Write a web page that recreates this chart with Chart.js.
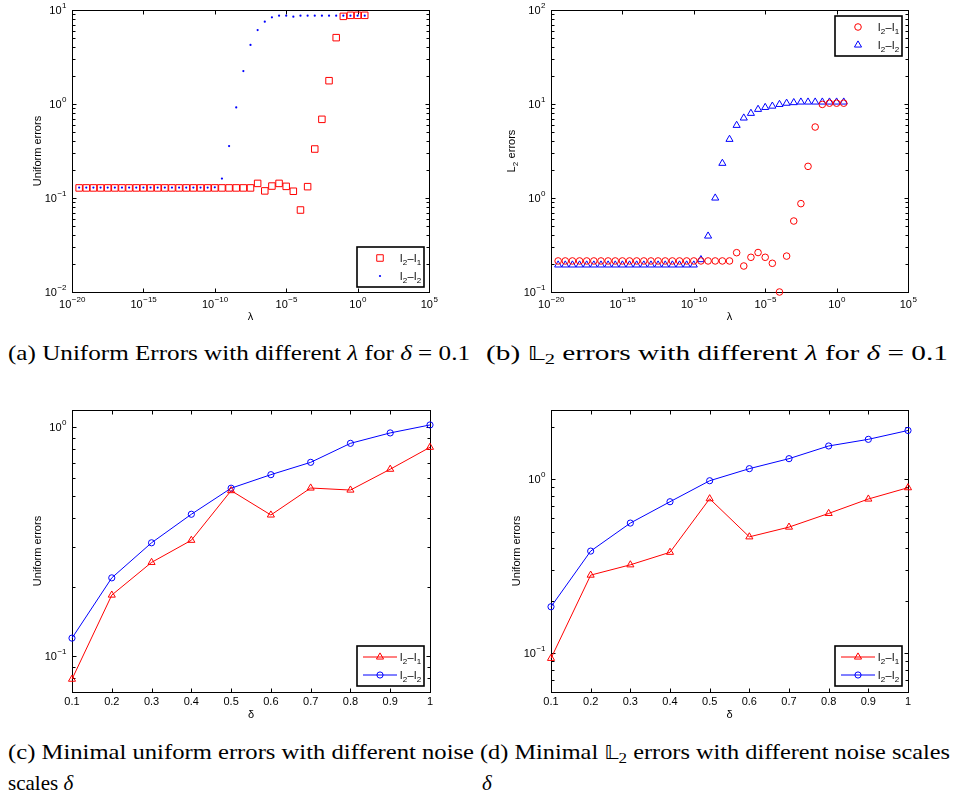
<!DOCTYPE html>
<html>
<head>
<meta charset="utf-8">
<script src="https://cdn.jsdelivr.net/npm/chart.js@4"></script>
<style>
  html, body { margin: 0; padding: 0; background: #fff; }
  body { width: 954px; height: 799px; position: relative; overflow: hidden; }
  canvas { position: absolute; }
  .cap { position: absolute; font-family: "Liberation Serif", "DejaVu Serif", serif; font-size: 21px; color: #000; white-space: nowrap; transform-origin: 0 50%; line-height: 1; }
  .cap sub { font-size: 70%; vertical-align: -0.25em; line-height: 0; }
  .ds { font-family: "DejaVu Sans", "DejaVu Serif", serif; font-size: 90%; }
</style>
</head>
<body>
<canvas id="ca" width="477" height="330" style="left:0;top:0"></canvas>
<canvas id="cb" width="477" height="330" style="left:477px;top:0"></canvas>
<canvas id="cc" width="477" height="330" style="left:0;top:395px"></canvas>
<canvas id="cd" width="477" height="330" style="left:477px;top:395px"></canvas>

<div class="cap" data-w="462" style="left:8px;top:343px">(a) Uniform Errors with different <i>λ</i> for <i>δ</i> = 0.1</div>
<div class="cap" data-w="462" style="left:486px;top:343px">(b) <span class="ds">𝕃</span><sub>2</sub> errors with different <i>λ</i> for <i>δ</i> = 0.1</div>
<div class="cap" data-w="466" style="left:8px;top:742px">(c) Minimal uniform errors with different noise</div>
<div class="cap" data-w="470" style="left:480px;top:742px">(d) Minimal <span class="ds">𝕃</span><sub>2</sub> errors with different noise scales</div>
<div class="cap" style="left:8px;top:773px">scales <i>δ</i></div>
<div class="cap" style="left:482px;top:773px"><i>δ</i></div>

<script>
// ---------------- DATA ----------------
// lambda = 10^exponent
const lambdaExponents = [-19.5,-19,-18.5,-18,-17.5,-17,-16.5,-16,-15.5,-15,-14.5,-14,-13.5,-13,-12.5,-12,-11.5,-11,-10.5,-10,
  -9.5,-9,-8.5,-8,-7.5,-7,-6.5,-6,-5.5,-5,-4.5,-4,-3.5,-3,-2.5,-2,-1.5,-1,-0.5,0,0.5];

// (a) Uniform errors vs lambda
const uniformL2L1 = [0.128,0.128,0.128,0.128,0.128,0.128,0.128,0.128,0.128,0.128,0.128,0.128,0.128,0.128,0.128,0.128,0.128,0.128,0.128,0.128,
  0.128,0.128,0.128,0.128,0.128,0.143,0.119,0.134,0.143,0.133,0.118,0.0745,0.132,0.332,0.687,1.77,5.08,8.56,8.78,8.78,8.78];
const uniformL2L2 = [0.129,0.129,0.129,0.129,0.129,0.129,0.129,0.129,0.129,0.129,0.129,0.129,0.129,0.129,0.129,0.129,0.129,0.129,0.129,0.13,
  0.161,0.357,0.92,2.24,4.25,6.12,7.52,8.36,8.7,8.7,8.5,8.7,8.7,8.7,8.7,8.7,8.7,8.7,8.7,8.7,8.7];

// (b) L2 errors vs lambda
const l2L2L1 = [0.214,0.214,0.214,0.214,0.214,0.214,0.214,0.214,0.214,0.214,0.214,0.214,0.214,0.214,0.214,0.214,0.214,0.214,0.214,0.214,
  0.214,0.214,0.214,0.214,0.214,0.262,0.189,0.234,0.263,0.234,0.202,0.1,0.241,0.569,0.871,2.17,5.69,9.9,10.2,10.2,10.2];
const l2L2L2 = [0.194,0.194,0.194,0.194,0.194,0.194,0.194,0.194,0.194,0.194,0.194,0.194,0.194,0.194,0.194,0.194,0.194,0.194,0.194,0.194,
  0.221,0.394,1.0,2.34,4.21,5.93,7.1,7.96,8.78,9.2,9.5,9.9,10.2,10.35,10.5,10.5,10.5,10.5,10.5,10.5,10.5];

// (c),(d) minimal errors vs delta
const deltas = [0.1,0.2,0.3,0.4,0.5,0.6,0.7,0.8,0.9,1.0];
const minUniformL2L1 = [0.0794,0.185,0.257,0.321,0.529,0.414,0.543,0.532,0.656,0.818];
const minUniformL2L2 = [0.12,0.22,0.313,0.417,0.542,0.621,0.703,0.851,0.945,1.024];
const minL2L2L1 = [0.0936,0.281,0.322,0.380,0.771,0.466,0.530,0.635,0.768,0.892];
const minL2L2L2 = [0.185,0.386,0.559,0.741,0.978,1.147,1.309,1.548,1.69,1.90];

// tick labels
const lambdaTickExps = ['−20','−15','−10','−5','0','5'];
const lambdaTickVals = [1e-20,1e-15,1e-10,1e-5,1e0,1e5];
const uniformYTickExps = ['−2','−1','0','1'];
const uniformYTickVals = [1e-2,1e-1,1e0,1e1];
const l2YTickExps = ['−1','0','1','2'];
const l2YTickVals = [1e-1,1e0,1e1,1e2];
const deltaTickLabels = ['0.1','0.2','0.3','0.4','0.5','0.6','0.7','0.8','0.9','1'];
const minYTickExps = ['−1','0'];
const minYTickVals = [1e-1,1e0];
const seriesNames = [['l','2','-','l','1'],['l','2','-','l','2']];

// ---------------- HELPERS ----------------
const FONT = '"Liberation Sans", Arial, Helvetica, sans-serif';
const RED = '#ff0000', BLUE = '#0000ff';

function pts(xs, ys) { return xs.map((x, i) => ({x: x, y: ys[i]})); }
const lambdas = lambdaExponents.map(e => Math.pow(10, e));

function line(ctx, x1, y1, x2, y2) { ctx.beginPath(); ctx.moveTo(x1, y1); ctx.lineTo(x2, y2); ctx.stroke(); }

function drawPow(ctx, exp, x, y, align) {
  ctx.font = '11px ' + FONT;
  const wb = ctx.measureText('10').width;
  ctx.font = '8px ' + FONT;
  const we = ctx.measureText(exp).width;
  let sx;
  if (align === 'center') sx = x - (wb + we) / 2;
  else sx = x - (wb + we);
  ctx.textAlign = 'left';
  ctx.textBaseline = 'alphabetic';
  ctx.font = '11px ' + FONT;
  ctx.fillText('10', sx, y);
  ctx.font = '8px ' + FONT;
  ctx.fillText(exp, sx + wb + 0.5, y - 6);
}

function drawSubText(ctx, parts, x, y) {
  let cx = x;
  ctx.textAlign = 'left'; ctx.textBaseline = 'alphabetic';
  parts.forEach(p => {
    const isSub = (p === '1' || p === '2');
    ctx.font = (isSub ? '8px ' : '11px ') + FONT;
    ctx.fillText(p === '-' ? '–' : p, cx, y + (isSub ? 3 : 0));
    cx += ctx.measureText(p === '-' ? '–' : p).width + (p === '-' ? 0.5 : 0.3);
  });
  return cx - x;
}

function measureSub(ctx, parts) {
  let w = 0;
  parts.forEach(p => {
    const isSub = (p === '1' || p === '2');
    ctx.font = (isSub ? '8px ' : '11px ') + FONT;
    w += ctx.measureText(p === '-' ? '–' : p).width + (p === '-' ? 0.5 : 0.3);
  });
  return w;
}

function drawMarker(ctx, style, r, x, y, color) {
  ctx.save();
  ctx.strokeStyle = color; ctx.fillStyle = color; ctx.lineWidth = 1;
  ctx.beginPath();
  if (style === 'rect') {
    const s = r * Math.SQRT1_2;
    ctx.rect(x - s, y - s, 2 * s, 2 * s); ctx.stroke();
  } else if (style === 'circle') {
    ctx.arc(x, y, r, 0, Math.PI * 2); ctx.stroke();
  } else if (style === 'dot') {
    ctx.arc(x, y, r, 0, Math.PI * 2); ctx.fill();
  } else if (style === 'triangle') {
    ctx.moveTo(x, y - r);
    ctx.lineTo(x + r * Math.sin(Math.PI / 3), y + r / 2);
    ctx.lineTo(x - r * Math.sin(Math.PI / 3), y + r / 2);
    ctx.closePath(); ctx.stroke();
  }
  ctx.restore();
}

function minorLogTicks(min, max) {
  const out = [];
  for (let k = Math.floor(Math.log10(min)); k <= Math.ceil(Math.log10(max)); k++) {
    for (let m = 2; m <= 9; m++) {
      const v = m * Math.pow(10, k);
      if (v > min && v < max) out.push(v);
    }
  }
  return out;
}

const matlabAxes = {
  id: 'matlabAxes',
  beforeDatasetsDraw(chart, args, o) {
    const ctx = chart.ctx;
    const {left, right, top, bottom} = chart.chartArea;
    const xs = chart.scales.x, ys = chart.scales.y;
    ctx.save();
    ctx.strokeStyle = '#000'; ctx.lineWidth = 1;
    const L = Math.round(left) + 0.5, R = Math.round(right) + 0.5, T = Math.round(top) + 0.5, B = Math.round(bottom) + 0.5;
    ctx.strokeRect(L, T, R - L, B - T);
    o.xTicks.forEach(v => {
      const px = Math.round(xs.getPixelForValue(v)) + 0.5;
      line(ctx, px, B, px, B - 4); line(ctx, px, T, px, T + 4);
    });
    o.yTicks.forEach(v => {
      const py = Math.round(ys.getPixelForValue(v)) + 0.5;
      line(ctx, L, py, L + 4, py); line(ctx, R, py, R - 4, py);
    });
    minorLogTicks(ys.min, ys.max).forEach(v => {
      const py = Math.round(ys.getPixelForValue(v)) + 0.5;
      line(ctx, L, py, L + 3, py); line(ctx, R, py, R - 3, py);
    });
    ctx.fillStyle = '#000';
    o.xTicks.forEach((v, i) => {
      const px = xs.getPixelForValue(v);
      if (o.xPow) drawPow(ctx, o.xLabels[i], px, bottom + 16, 'center');
      else { ctx.font = '11px ' + FONT; ctx.textAlign = 'center'; ctx.textBaseline = 'alphabetic'; ctx.fillText(o.xLabels[i], px, bottom + 13); }
    });
    o.yTicks.forEach((v, i) => {
      const py = ys.getPixelForValue(v);
      drawPow(ctx, o.yLabels[i], left - 6, py + 4, 'right');
    });
    ctx.font = '11px ' + FONT; ctx.textAlign = 'center'; ctx.textBaseline = 'alphabetic';
    ctx.fillText(o.xTitle, (left + right) / 2, bottom + o.xTitleDy);
    ctx.save();
    ctx.translate(left - o.yTitleDx, (top + bottom) / 2);
    ctx.rotate(-Math.PI / 2);
    if (o.yTitleParts) {
      const w = measureSub(ctx, o.yTitleParts);
      drawSubText(ctx, o.yTitleParts, -w / 2, 0);
    } else {
      ctx.font = '11px ' + FONT; ctx.textAlign = 'center';
      ctx.fillText(o.yTitle, 0, 0);
    }
    ctx.restore();
    ctx.restore();
  },
  afterDatasetsDraw(chart, args, o) {
    const ctx = chart.ctx;
    const {left, right, top, bottom} = chart.chartArea;
    const lg = o.legend;
    const bw = 67, bh = 40;
    const bx = right - lg.dr - bw;
    const by = lg.pos === 'top' ? top + lg.dt : bottom - lg.db - bh;
    ctx.save();
    ctx.fillStyle = '#fff';
    ctx.fillRect(bx, by, bw, bh);
    ctx.strokeStyle = '#000'; ctx.lineWidth = 1.6;
    ctx.strokeRect(bx, by, bw, bh);
    const rows = [by + 11, by + 29];
    chart.data.datasets.forEach((ds, i) => {
      const ry = rows[i];
      if (ds.showLine) {
        ctx.strokeStyle = ds.borderColor; ctx.lineWidth = 1;
        line(ctx, bx + 6, ry, bx + 40, ry);
      }
      drawMarker(ctx, ds.legendStyle, ds.pointRadius, bx + 23, ry, ds.borderColor);
      ctx.fillStyle = '#000';
      drawSubText(ctx, seriesNames[i], bx + 43, ry + 4);
    });
    ctx.restore();
  }
};

function makeChart(id, datasets, opts, padding, xScale, yScale) {
  return new Chart(document.getElementById(id), {
    type: 'scatter',
    data: { datasets: datasets },
    options: {
      responsive: false,
      animation: false,
      devicePixelRatio: 1,
      layout: { padding: padding },
      scales: {
        x: Object.assign({ display: false }, xScale),
        y: Object.assign({ display: false }, yScale)
      },
      plugins: { legend: { display: false }, tooltip: { enabled: false }, matlabAxes: opts }
    },
    plugins: [matlabAxes]
  });
}

function markerDs(data, color, style, radius, legendStyle) {
  return {
    data: data, showLine: false, clip: false,
    pointStyle: style, pointRadius: radius,
    borderColor: color, pointBorderColor: color,
    pointBackgroundColor: legendStyle === 'dot' ? color : 'rgba(0,0,0,0)',
    pointBorderWidth: legendStyle === 'dot' ? 0 : 1,
    legendStyle: legendStyle
  };
}
function lineDs(data, color, style, radius) {
  return {
    data: data, showLine: true, clip: false,
    borderColor: color, borderWidth: 1,
    pointStyle: style, pointRadius: radius,
    pointBorderColor: color, pointBackgroundColor: 'rgba(0,0,0,0)', pointBorderWidth: 1,
    legendStyle: style
  };
}

// (a)
makeChart('ca', [
  markerDs(pts(lambdas, uniformL2L1), RED, 'rect', 4.6, 'rect'),
  markerDs(pts(lambdas, uniformL2L2), BLUE, 'circle', 1.1, 'dot')
], {
  xTicks: lambdaTickVals, xLabels: lambdaTickExps, xPow: true,
  yTicks: uniformYTickVals, yLabels: uniformYTickExps,
  xTitle: 'λ', xTitleDy: 28, yTitle: 'Uniform errors', yTitleDx: 31,
  legend: { pos: 'bottom', dr: 5, db: 5 }
}, { left: 72, top: 10, right: 48, bottom: 38 },
{ type: 'logarithmic', min: 1e-20, max: 1e5 }, { type: 'logarithmic', min: 1e-2, max: 1e1 });

// (b)
makeChart('cb', [
  markerDs(pts(lambdas, l2L2L1), RED, 'circle', 3.3, 'circle'),
  markerDs(pts(lambdas, l2L2L2), BLUE, 'triangle', 4.1, 'triangle')
], {
  xTicks: lambdaTickVals, xLabels: lambdaTickExps, xPow: true,
  yTicks: l2YTickVals, yLabels: l2YTickExps,
  xTitle: 'λ', xTitleDy: 28, yTitleParts: ['L', '2', ' errors'], yTitleDx: 36,
  legend: { pos: 'top', dr: 6, dt: 6 }
}, { left: 74, top: 10, right: 46, bottom: 38 },
{ type: 'logarithmic', min: 1e-20, max: 1e5 }, { type: 'logarithmic', min: 1e-1, max: 1e2 });

// (c)
makeChart('cc', [
  lineDs(pts(deltas, minUniformL2L1), RED, 'triangle', 4.1),
  lineDs(pts(deltas, minUniformL2L2), BLUE, 'circle', 3.1)
], {
  xTicks: deltas, xLabels: deltaTickLabels, xPow: false,
  yTicks: minYTickVals, yLabels: minYTickExps,
  xTitle: 'δ', xTitleDy: 26, yTitle: 'Uniform errors', yTitleDx: 31,
  legend: { pos: 'bottom', dr: 6, db: 6 }
}, { left: 72, top: 15, right: 47, bottom: 33 },
{ type: 'linear', min: 0.1, max: 1 }, { type: 'logarithmic', min: 0.0698, max: 1.19 });

// (d)
makeChart('cd', [
  lineDs(pts(deltas, minL2L2L1), RED, 'triangle', 4.1),
  lineDs(pts(deltas, minL2L2L2), BLUE, 'circle', 3.1)
], {
  xTicks: deltas, xLabels: deltaTickLabels, xPow: false,
  yTicks: minYTickVals, yLabels: minYTickExps,
  xTitle: 'δ', xTitleDy: 26, yTitle: 'Uniform errors', yTitleDx: 31,
  legend: { pos: 'bottom', dr: 6, db: 6 }
}, { left: 74, top: 15, right: 46, bottom: 33 },
{ type: 'linear', min: 0.1, max: 1 }, { type: 'logarithmic', min: 0.06, max: 2.49 });

// fit captions horizontally
document.querySelectorAll('.cap[data-w]').forEach(el => {
  const target = parseFloat(el.dataset.w);
  const w = el.getBoundingClientRect().width;
  if (w > 0) el.style.transform = 'scaleX(' + (target / w).toFixed(4) + ')';
});
</script>
</body>
</html>
